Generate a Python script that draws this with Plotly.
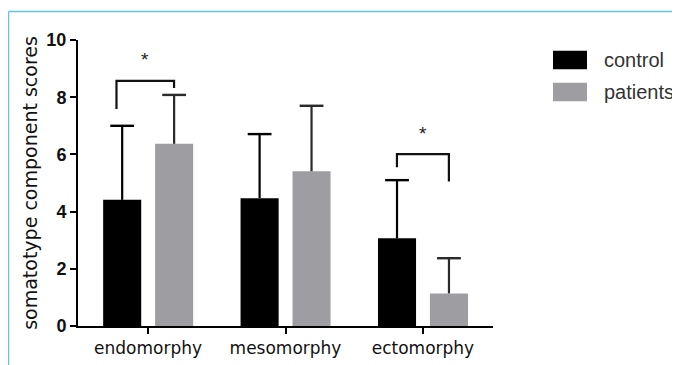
import plotly.graph_objects as go

# ---- data ----
categories = ["endomorphy", "mesomorphy", "ectomorphy"]
series_names = ["control", "patients"]
control_mean = [4.41, 4.47, 3.07]
control_sd = [2.59, 2.24, 2.03]
patients_mean = [6.37, 5.41, 1.14]
patients_sd = [1.71, 2.29, 1.23]
y_ticks = [0, 2, 4, 6, 8, 10]
y_title = "somatotype component scores"
# significance brackets: category index, bracket height, left leg end, right leg end
sig_cat = [0, 2]
sig_top = [8.57, 6.01]
sig_left_end = [7.59, 5.55]
sig_right_end = [8.32, 5.05]
sig_label = ["*", "*"]

# ---- style ----
colors = ["#000000", "#9e9ea2"]
err_colors = ["#000000", "#2a2a2a"]
bar_w = 0.277
offsets = [-0.327, 0.051]
x_pos = list(range(len(categories)))

fig = go.Figure()
for name, means, sds, col, ecol, off in zip(
        series_names, [control_mean, patients_mean], [control_sd, patients_sd],
        colors, err_colors, offsets):
    fig.add_trace(go.Bar(
        x=x_pos, y=means, name=name, width=bar_w, offset=off,
        marker=dict(color=col, line=dict(width=0)),
        showlegend=False,
    ))
    # upper-only error whiskers
    xc = [x + off + bar_w / 2 for x in x_pos]
    lx, ly = [], []
    for xi, m, s in zip(xc, means, sds):
        lx += [xi, xi, None]
        ly += [m, m + s, None]
    fig.add_trace(go.Scatter(x=lx, y=ly, mode="lines", line=dict(color=ecol, width=2.2),
                             showlegend=False, hoverinfo="skip"))
    fig.add_trace(go.Scatter(x=xc, y=[m + s for m, s in zip(means, sds)], mode="markers",
                             marker=dict(symbol="line-ew", size=17, color=ecol,
                                         line=dict(color=ecol, width=2.4)),
                             showlegend=False, hoverinfo="skip"))

# significance brackets
for ci, top, le, re_, lab in zip(sig_cat, sig_top, sig_left_end, sig_right_end, sig_label):
    xl = ci + (-0.23 if ci == 0 else -0.189)
    xr = ci + 0.189
    fig.add_shape(type="path", xref="x", yref="y",
                  path=f"M {xl},{le} L {xl},{top} L {xr},{top} L {xr},{re_}",
                  line=dict(color="#111111", width=2.2))
    fig.add_annotation(x=(xl + xr) / 2, y=top + 0.3, text=lab, showarrow=False,
                       xref="x", yref="y", yanchor="bottom",
                       font=dict(family="Liberation Sans, Arial", size=19, color="#222"))

# custom legend (large swatches)
for i, (name, col) in enumerate(zip(series_names, colors)):
    y0 = 0.9626 - i * 0.1119
    fig.add_shape(type="rect", xref="paper", yref="paper",
                  x0=1.1446, x1=1.2265, y0=y0 - 0.065, y1=y0,
                  fillcolor=col, line=dict(width=0))
    fig.add_annotation(xref="paper", yref="paper", x=1.2627, y=y0 - 0.0326,
                       text=name, showarrow=False, xanchor="left", yanchor="middle",
                       font=dict(family="Liberation Sans, Arial", size=20, color="#333333"))

# light blue frame lines
fig.add_shape(type="line", xref="paper", yref="paper", x0=-0.1675, x1=-0.1675,
              y0=1.0997, y1=-0.17, line=dict(color="#63c3e3", width=1.5))
fig.add_shape(type="line", xref="paper", yref="paper", x0=-0.1675, x1=1.48,
              y0=1.0997, y1=1.0997, line=dict(color="#63c3e3", width=1.5))

fig.update_layout(
    width=680, height=365,
    margin=dict(l=70, r=195, t=32, b=47),
    paper_bgcolor="white", plot_bgcolor="white",
    barmode="overlay",
    xaxis=dict(range=[-0.51, 2.51], tickmode="array", tickvals=x_pos, ticktext=categories,
               showline=True, linecolor="black", linewidth=2, ticks="outside",
               ticklen=6, tickwidth=2, tickcolor="black", showgrid=False, zeroline=False,
               tickfont=dict(family="DejaVu Sans", size=17, color="#111")),
    yaxis=dict(range=[0, 10], tickmode="array", tickvals=y_ticks,
               showline=True, linecolor="black", linewidth=2, ticks="outside",
               ticklen=6, tickwidth=2, tickcolor="black", showgrid=False, zeroline=False,
               tickfont=dict(family="Liberation Sans, Arial", size=18, color="#111", weight="bold"),
               title=dict(text=y_title, standoff=4,
                          font=dict(family="DejaVu Sans", size=19, color="#111"))),
)

fig.write_html("out.html")
